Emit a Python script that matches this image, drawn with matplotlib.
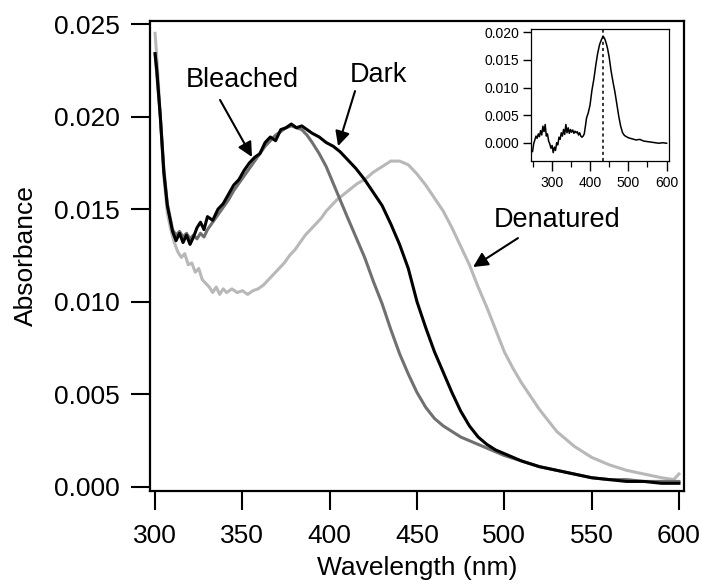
import matplotlib
matplotlib.use("Agg")
import matplotlib.pyplot as plt
from matplotlib.ticker import MultipleLocator, FormatStrFormatter

plt.rcParams['font.family'] = ['Liberation Sans', 'DejaVu Sans']

# Main spectra (wavelength in nm, absorbance)
dark_wl = [300, 301, 303, 305, 307, 310, 312, 314, 316, 318, 320, 322, 324, 326, 328, 330,
           333, 336, 339, 342, 345, 348, 351, 354, 357, 360, 363, 366, 369, 372, 375, 378,
           381, 384, 387, 390, 394, 398, 402, 406, 410, 415, 420, 425, 430, 435, 440, 445,
           450, 455, 460, 465, 470, 475, 480, 485, 490, 495, 500, 510, 520, 530, 540, 550,
           560, 570, 580, 590, 600]
dark_abs = [0.0234, 0.0225, 0.0200, 0.0170, 0.0152, 0.0138, 0.0133, 0.0137, 0.0132, 0.0136,
            0.0131, 0.0135, 0.0140, 0.0143, 0.0139, 0.0146, 0.0144, 0.0150, 0.0153, 0.0158,
            0.0163, 0.0166, 0.0171, 0.0175, 0.0178, 0.0180, 0.0186, 0.0189, 0.0187, 0.0193,
            0.0194, 0.0196, 0.0194, 0.0195, 0.0193, 0.0191, 0.0189, 0.0186, 0.0184, 0.0181,
            0.0177, 0.0172, 0.0166, 0.0159, 0.0152, 0.0142, 0.0131, 0.0118, 0.0100, 0.0086,
            0.0073, 0.0062, 0.0051, 0.0041, 0.0033, 0.0027, 0.0023, 0.0020, 0.0018, 0.0014,
            0.0011, 0.0009, 0.0007, 0.0005, 0.0004, 0.0003, 0.0003, 0.0002, 0.0002]

bleached_wl = [300, 303, 305, 307, 310, 312, 314, 316, 318, 320, 322, 324, 326, 328, 330,
               333, 336, 339, 342, 345, 348, 351, 354, 357, 360, 363, 366, 369, 372, 375, 378,
               381, 384, 387, 390, 394, 398, 402, 406, 410, 415, 420, 425, 430, 435, 440, 445,
               450, 455, 460, 465, 470, 475, 480, 485, 490, 495, 500, 510, 520, 530, 540, 550,
               560, 570, 580, 590, 600]
bleached_abs = [0.0234, 0.0200, 0.0172, 0.0153, 0.0139, 0.0136, 0.0138, 0.0135, 0.0137, 0.0134,
                0.0136, 0.0134, 0.0137, 0.0135, 0.0139, 0.0143, 0.0147, 0.0151, 0.0155, 0.0160,
                0.0164, 0.0168, 0.0172, 0.0176, 0.0180, 0.0184, 0.0187, 0.0190, 0.0192, 0.0194,
                0.0195, 0.0194, 0.0193, 0.0190, 0.0186, 0.0180, 0.0173, 0.0164, 0.0155, 0.0146,
                0.0135, 0.0124, 0.0111, 0.0099, 0.0085, 0.0072, 0.0061, 0.0051, 0.0043, 0.0037,
                0.0033, 0.0030, 0.0027, 0.0025, 0.0023, 0.0021, 0.0019, 0.0017, 0.0014, 0.0011,
                0.0009, 0.0007, 0.0005, 0.0004, 0.0004, 0.0003, 0.0003, 0.0003]

denatured_wl = [300, 301, 303, 305, 307, 309, 311, 313, 315, 317, 319, 321, 323, 325, 327, 329,
                331, 333, 335, 337, 339, 341, 344, 347, 350, 353, 356, 359, 362, 365, 368, 371,
                374, 377, 380, 383, 386, 389, 392, 395, 398, 401, 404, 408, 412, 416, 420, 425,
                430, 435, 440, 445, 450, 455, 460, 465, 470, 475, 480, 485, 490, 495, 500, 505,
                510, 515, 520, 525, 530, 535, 540, 545, 550, 560, 570, 580, 590, 597, 600]
denatured_abs = [0.0245, 0.0232, 0.0200, 0.0168, 0.0148, 0.0139, 0.0132, 0.0127, 0.0124, 0.0126,
                 0.0120, 0.0121, 0.0116, 0.0118, 0.0112, 0.0110, 0.0108, 0.0105, 0.0108, 0.0104,
                 0.0107, 0.0105, 0.0107, 0.0105, 0.0106, 0.0104, 0.0106, 0.0107, 0.0109, 0.0112,
                 0.0115, 0.0118, 0.0121, 0.0125, 0.0128, 0.0132, 0.0136, 0.0139, 0.0142, 0.0145,
                 0.0149, 0.0152, 0.0155, 0.0158, 0.0161, 0.0164, 0.0166, 0.0170, 0.0173, 0.0176,
                 0.0176, 0.0174, 0.0169, 0.0163, 0.0156, 0.0149, 0.0140, 0.0130, 0.0120, 0.0108,
                 0.0097, 0.0085, 0.0073, 0.0064, 0.0056, 0.0049, 0.0042, 0.0036, 0.0030, 0.0026,
                 0.0022, 0.0019, 0.0016, 0.0012, 0.0009, 0.0007, 0.0005, 0.0004, 0.0007]

# Inset: difference spectrum
diff_wl = [250, 253, 256, 259, 262, 265, 268, 271, 274, 277, 280, 283, 286, 289, 292, 295,
           298, 301, 304, 307, 310, 313, 316, 319, 322, 325, 328, 331, 334, 337, 340, 343,
           346, 349, 352, 355, 358, 361, 364, 367, 370, 373, 376, 379, 382, 385, 388, 391,
           395, 400, 405, 410, 415, 420, 425, 430, 434, 438, 442, 446, 450, 455, 460, 465,
           470, 475, 480, 485, 490, 495, 500, 510, 520, 530, 540, 550, 560, 570, 580, 590, 600]
diff_abs = [-0.0016, -0.0002, 0.0005, 0.0012, 0.0008, 0.0016, 0.0011, 0.0022, 0.0014, 0.0030,
            0.0020, 0.0033, 0.0012, 0.0016, 0.0003, -0.0002, -0.0010, -0.0005, -0.0018, -0.0008,
            -0.0014, 0.0000, -0.0004, 0.0010, 0.0006, 0.0018, 0.0012, 0.0024, 0.0015, 0.0033,
            0.0018, 0.0027, 0.0017, 0.0024, 0.0019, 0.0023, 0.0017, 0.0021, 0.0018, 0.0020,
            0.0014, 0.0018, 0.0012, 0.0010, 0.0012, 0.0016, 0.0030, 0.0045,
            0.0053, 0.0068, 0.0095, 0.0115, 0.0140, 0.0162, 0.0178, 0.0187,
            0.0193, 0.0189, 0.0181, 0.0170,
            0.0155, 0.0130, 0.0110, 0.0092, 0.0070, 0.0048, 0.0030, 0.0018, 0.0013, 0.0011, 0.0009,
            0.0007, 0.0005, 0.0006, 0.0003, 0.0002, 0.0001, 0.0000, -0.0001, 0.0000, -0.0001]
peak_wl = 434

fig = plt.figure(figsize=(7.03, 5.85), dpi=100)
ax = fig.add_axes([0.2134, 0.1612, 0.7596, 0.8034])

ax.plot(denatured_wl, denatured_abs, color='#b8b8b8', lw=2.2)
ax.plot(bleached_wl, bleached_abs, color='#707070', lw=2.2)
ax.plot(dark_wl, dark_abs, color='black', lw=2.2)

ax.set_xlim(297.1, 602.9)
ax.set_ylim(-0.0002, 0.02518)
ax.set_xticks([300, 350, 400, 450, 500, 550, 600])
ax.set_yticks([0.000, 0.005, 0.010, 0.015, 0.020, 0.025])
ax.yaxis.set_major_formatter(FormatStrFormatter('%.3f'))
for s in ax.spines.values():
    s.set_linewidth(1.6)
ax.tick_params(axis='x', direction='out', length=14, width=1.5, labelsize=19, pad=10)
ax.tick_params(axis='y', direction='out', length=14, width=1.5, labelsize=19, pad=8)
ax.set_xlabel('Wavelength (nm)', fontsize=19, labelpad=6)
ax.set_ylabel('Absorbance', fontsize=19, labelpad=11)

arrow = dict(arrowstyle='-|>', color='black', lw=1.5, mutation_scale=22, shrinkA=0, shrinkB=0)
ax.annotate('', xy=(355.5, 0.01782), xytext=(337.2, 0.0209), arrowprops=arrow)
ax.text(349.8, 0.02198, 'Bleached', fontsize=19.5, ha='center', va='center')
ax.annotate('', xy=(404.8, 0.01841), xytext=(414.5, 0.02138), arrowprops=arrow)
ax.text(427.7, 0.02225, 'Dark', fontsize=19.5, ha='center', va='center')
ax.annotate('', xy=(482.1, 0.01188), xytext=(507.8, 0.01344), arrowprops=arrow)
ax.text(530.1, 0.01442, 'Denatured', fontsize=19.5, ha='center', va='center')

# inset
ins = fig.add_axes([0.7549, 0.7253, 0.1972, 0.2246])
ins.plot(diff_wl, diff_abs, color='black', lw=1.1)
ins.axvline(peak_wl, color='black', lw=1.1, ls=(0, (2, 2)))
ins.set_xlim(245.2, 607)
ins.set_ylim(-0.00326, 0.02055)
ins.set_xticks([300, 400, 500, 600])
ins.xaxis.set_minor_locator(MultipleLocator(50))
ins.set_yticks([0.000, 0.005, 0.010, 0.015, 0.020])
ins.yaxis.set_major_formatter(FormatStrFormatter('%.3f'))
for s in ins.spines.values():
    s.set_linewidth(0.9)
ins.tick_params(axis='x', which='major', direction='out', length=7, width=1.0, labelsize=10, pad=4)
ins.tick_params(axis='x', which='minor', direction='out', length=4, width=0.9)
ins.tick_params(axis='y', direction='out', length=6, width=1.0, labelsize=10, pad=2)

fig.savefig('out.png', dpi=100)
